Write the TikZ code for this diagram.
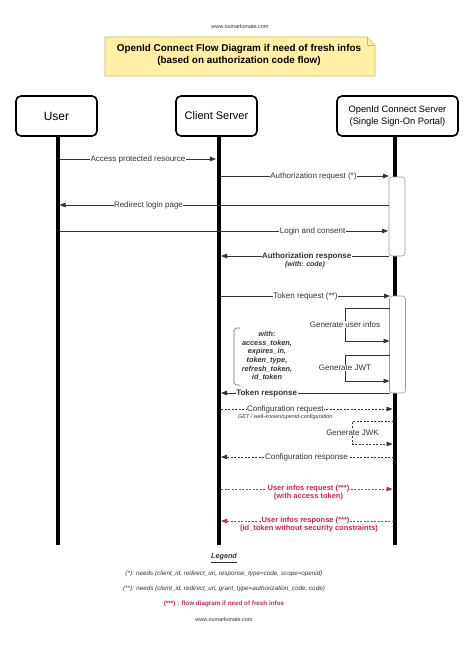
\documentclass[tikz,border=0pt]{standalone}
\usepackage{fontspec}
\setmainfont{Liberation Sans}
\usetikzlibrary{arrows.meta,shapes.misc}
\definecolor{linegrey}{HTML}{333333}
\definecolor{boxgrey}{HTML}{9A9A9A}
\definecolor{notefill}{HTML}{FFF0A5}
\definecolor{noteedge}{HTML}{D6B656}
\definecolor{redmsg}{HTML}{C3294B}
\begin{document}
\begin{tikzpicture}[x=1pt,y=-1pt,
  actor/.style={draw=black,line width=1.6pt,rounded corners=5pt,fill=white,align=center,inner sep=0pt},
  life/.style={line width=3.2pt,black},
  msg/.style={draw=linegrey,line width=0.8pt,-{Triangle[length=6pt,width=4.5pt]}},
  dmsg/.style={msg,dash pattern=on 2pt off 1.5pt},
  rmsg/.style={dmsg,draw=redmsg,-{Triangle[length=6pt,width=4.5pt,fill=redmsg]}},
  lbl/.style={fill=white,inner sep=0.5pt,font=\fontsize{8}{9}\selectfont,text=linegrey},
  blbl/.style={lbl,font=\fontsize{8}{9}\selectfont\bfseries},
  rlbl/.style={lbl,font=\fontsize{7.5}{8.5}\selectfont\bfseries,text=redmsg},
  sub/.style={inner sep=0pt,font=\fontsize{7}{8}\selectfont\bfseries\itshape,text=linegrey},
  act/.style={draw=boxgrey,line width=0.6pt,fill=white,rounded corners=3pt},
  loop/.style={msg},
  small/.style={inner sep=0pt,font=\fontsize{6.3}{7}\selectfont\itshape,text=linegrey}
]
\useasboundingbox (0,0) rectangle (474,650);
\fill[white] (0,0) rectangle (474,650);

% header url
\node[inner sep=0pt,font=\fontsize{5.5}{6}\selectfont,text=linegrey] (urltop) at (240,27) {www.oumarkonate.com};

% note
\draw[draw=noteedge,fill=notefill,line width=0.6pt] (105,37) -- (367,37) -- (375,45) -- (375,76) -- (105,76) -- cycle;
\draw[draw=noteedge,line width=0.6pt] (367,37) -- (367,45) -- (375,45);
\node[align=center,inner sep=0pt,font=\fontsize{9.9}{12.5}\selectfont\bfseries] (title) at (239,55)
  {OpenId Connect Flow Diagram if need of fresh infos\\(based on authorization code flow)};

% actors
\node[actor,minimum width=81pt,minimum height=40pt,font=\fontsize{12}{14}\selectfont] (user) at (56.5,116) {User};
\node[actor,minimum width=81pt,minimum height=40pt,font=\fontsize{11}{13}\selectfont] (client) at (216.5,116) {Client Server};
\node[actor,minimum width=121pt,minimum height=40pt,font=\fontsize{9.3}{11.5}\selectfont] (op) at (397.5,116) {OpenId Connect Server\\(Single Sign-On Portal)};

% lifeline ends
\coordinate (uend) at (58,545);
\coordinate (cend) at (219,545);
\coordinate (oend) at (395,545);
\draw[life] (58,136) -- (uend);
\draw[life] (219,136) -- (cend);
\draw[life] (395,136) -- (oend);

% activation boxes
\node[act,minimum width=16pt,minimum height=79pt,inner sep=0pt] (act1) at (397,216.5) {};
\node[act,minimum width=16pt,minimum height=97pt,inner sep=0pt] (act2) at (397.5,344.5) {};

% message anchors
\coordinate (u1) at (60,159);   \coordinate (c1) at (216,159);
\coordinate (c2) at (221,176);  \coordinate (o2) at (389,176);
\coordinate (o3) at (389,205);  \coordinate (u3) at (59.5,205);
\coordinate (u4) at (60,231);   \coordinate (o4) at (388,231);
\coordinate (o5) at (389,256);  \coordinate (c5) at (221,256);
\coordinate (c6) at (221,296);  \coordinate (o6) at (390,296);
\coordinate (o7a) at (390,308); \coordinate (o7b) at (389.5,341);
\coordinate (o8a) at (390,355); \coordinate (o8b) at (389.5,381);
\coordinate (o9) at (390,393);  \coordinate (c9) at (221,393);
\coordinate (c10) at (221,409); \coordinate (o10) at (392.5,409);
\coordinate (o11a) at (393.5,421); \coordinate (o11b) at (392.5,444);
\coordinate (o12) at (393.5,457); \coordinate (c12) at (221,457);
\coordinate (c13) at (221,489); \coordinate (o13) at (392.5,489);
\coordinate (o14) at (393.5,521); \coordinate (c14) at (221,521);

\draw[msg] (u1) -- node[lbl,pos=0.5] (l1) {Access protected resource} (c1);
\draw[msg] (c2) -- node[lbl,pos=0.55] (l2) {Authorization request (*)} (o2);
\draw[msg] (o3) -- node[lbl,pos=0.73] (l3) {Redirect login page} (u3);
\draw[msg] (u4) -- node[lbl,pos=0.77] (l4) {Login and consent} (o4);
\draw[msg] (o5) -- node[blbl,pos=0.49] (l5) {Authorization response}
  node[sub,pos=0.5,yshift=-8.5pt] (l5b) {(with: code)} (c5);
\draw[msg] (c6) -- node[lbl,pos=0.5] (l6) {Token request (**)} (o6);
\draw[loop] (o7a) -- ++(-45,0) |- node[lbl,pos=0.25] (l7) {Generate user infos} (o7b);
\draw[loop] (o8a) -- ++(-45,0) |- node[lbl,pos=0.25] (l8) {Generate JWT} (o8b);
\draw[linegrey!70,line width=0.6pt,rounded corners=3pt] (240,328) -- (234,328) -- (234,385) -- (240,385);
\node[align=center,inner sep=0pt,font=\fontsize{7.3}{8.6}\selectfont\bfseries\itshape,text=linegrey] (withnote) at (267,356)
  {with:\\access\_token,\\expires\_in,\\token\_type,\\refresh\_token,\\id\_token};
\draw[msg] (o9) -- node[blbl,pos=0.73] (l9) {Token response} (c9);
\draw[dmsg] (c10) -- node[lbl,pos=0.375] (l10) {Configuration request}
  node[small,pos=0.375,yshift=-8pt,font=\fontsize{5.5}{6}\selectfont\itshape] (l10b) {GET / well-known/openid-configuration} (o10);
\draw[dmsg] (o11a) -- ++(-41,0) |- node[lbl,pos=0.25] (l11) {Generate JWK} (o11b);
\draw[dmsg] (o12) -- node[lbl,pos=0.505] (l12) {Configuration response} (c12);
\draw[rmsg] (c13) -- node[rlbl,pos=0.51] (l13) {User infos request (***)}
  node[rlbl,pos=0.51,yshift=-8pt,fill=none] (l13b) {(with access token)} (o13);
\draw[rmsg] (o14) -- node[rlbl,pos=0.51] (l14) {User infos response (***)}
  node[rlbl,pos=0.49,yshift=-8pt,fill=none] (l14b) {(id\_token without security constraints)} (c14);

% legend
\node[inner sep=0pt,font=\fontsize{7.2}{8}\selectfont\bfseries\itshape,text=linegrey] (legend) at (224,558) {\underline{Legend}};
\node[small] (leg1) at (224,574) {(*): needs (client\_id, redirect\_uri, response\_type=code, scope=openid)};
\node[small] (leg2) at (224,589) {(**): needs (client\_id, redirect\_uri, grant\_type=authorization\_code, code)};
\node[inner sep=0pt,font=\fontsize{6.3}{7}\selectfont\bfseries,text=redmsg] (leg3) at (224,604) {(***) : flow diagram if need of fresh infos};
\node[inner sep=0pt,font=\fontsize{5.5}{6}\selectfont,text=linegrey] (urlbot) at (224,620) {www.oumarkonate.com};
\end{tikzpicture}
\end{document}
